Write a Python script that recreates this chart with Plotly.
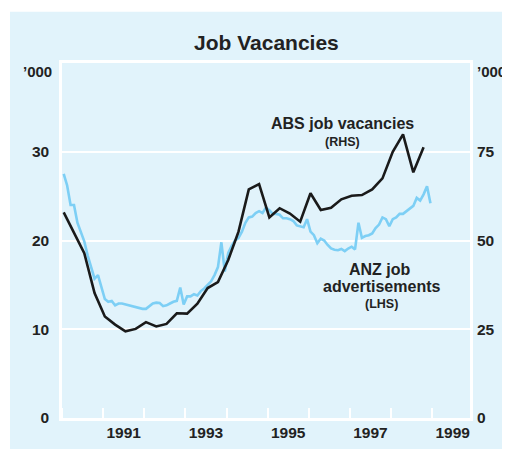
import pandas as pd
import plotly.graph_objects as go

# ANZ job advertisements ('000, LHS), monthly Jan 1990 - Dec 1998
anz_months = pd.date_range("1990-01-01", "1998-12-01", freq="MS")
anz_values = [
    27.5, 26.2, 24.0, 24.0, 22.0, 21.0, 19.9, 18.3, 17.1, 15.7, 16.1, 14.6,
    13.4, 13.1, 13.2, 12.7, 12.9, 12.9, 12.8, 12.7, 12.6, 12.45, 12.4, 12.3,
    12.3, 12.6, 12.9, 13.0, 12.95, 12.6, 12.7, 12.9, 13.1, 13.2, 14.7, 12.8,
    13.7, 13.7, 13.95, 13.8, 14.3, 14.6, 15.0, 15.4, 16.1, 17.0, 19.8, 16.5,
    18.6, 19.4, 20.0, 20.3, 21.0, 22.0, 22.6, 22.7, 23.1, 23.3, 23.1, 23.7,
    23.4, 23.0, 23.0, 22.9, 22.5, 22.5, 22.4, 22.2, 21.7, 21.6, 21.5, 22.4,
    21.0, 20.6, 19.7, 20.2, 20.0, 19.5, 19.1, 18.95, 18.9, 19.05, 18.8, 19.1,
    19.3, 19.0, 22.0, 20.3, 20.5, 20.6, 20.8, 21.4, 21.8, 22.6, 22.4, 21.6,
    22.4, 22.6, 23.0, 23.0, 23.3, 23.6, 23.9, 24.8, 24.5, 25.2, 26.1, 24.2,
]

# ABS job vacancies ('000, RHS), quarterly 1990 - 1998
abs_quarters = pd.date_range("1990-01-01", "1998-10-01", freq="QS")
abs_values = [
    57.9, 52.2, 46.4, 35.2, 28.6, 26.3, 24.4, 25.1, 27.0, 25.8, 26.5, 29.5,
    29.4, 32.2, 36.6, 38.3, 44.5, 52.5, 64.4, 65.9, 56.5, 59.1, 57.6, 55.3,
    63.3, 58.6, 59.2, 61.6, 62.6, 62.8, 64.4, 67.5, 75.0, 79.9, 69.2, 76.3,
]

x_tick_years = [1991, 1993, 1995, 1997, 1999]
left_ticks = [0, 10, 20, 30]
right_ticks = [0, 25, 50, 75]


def to_decimal_year(dates):
    # plot each observation at the middle of its month
    return [d.year + (d.month - 1) / 12 + 1 / 24 for d in dates]


BG = "#E1F3FB"
TXT = "#222222"
FONT = "Liberation Sans, Arial, sans-serif"

fig = go.Figure()
fig.add_trace(go.Scatter(
    x=to_decimal_year(anz_months), y=anz_values, mode="lines",
    line=dict(color="#7DCFF5", width=2.6), yaxis="y", showlegend=False,
    name="ANZ job advertisements",
))
fig.add_trace(go.Scatter(
    x=to_decimal_year(abs_quarters), y=abs_values, mode="lines",
    line=dict(color="#1A1A1A", width=2.6), yaxis="y2", showlegend=False,
    name="ABS job vacancies",
))

# page body has an 8px default margin, so the figure is drawn 8px in
OFF = 8
W, H = 510 - OFF, 449 - OFF
PL, PT, PW, PH = 62, 62.5, 408, 356          # plot area in page pixels
L, T = PL - OFF, PT - OFF
R, B = W - L - PW, H - T - PH


def px_to_paper_x(px):
    return (px - PL) / PW


def px_to_paper_y(py):
    return (PT + PH - py) / PH


fig.add_shape(type="rect", xref="paper", yref="paper",
              x0=px_to_paper_x(10), x1=px_to_paper_x(520),
              y0=px_to_paper_y(460), y1=px_to_paper_y(11),
              fillcolor=BG, line=dict(width=0), layer="below")

tickfont = dict(family=FONT, size=15.5, color=TXT, weight="bold")

fig.update_layout(
    width=W, height=H,
    margin=dict(l=L, r=R, t=T, b=B, pad=0, autoexpand=False),
    paper_bgcolor="white", plot_bgcolor=BG,
    font=dict(family=FONT, color=TXT),
    xaxis=dict(
        range=[1990.0, 1999.92], showgrid=False, zeroline=False, automargin=False,
        showline=True, linecolor="white", linewidth=2.5, mirror=True,
        tickmode="array", tickvals=[y + 0.5 for y in x_tick_years],
        ticktext=[str(y) for y in x_tick_years], ticks="", tickfont=tickfont,
        ticklabelstandoff=-1,
        minor=dict(tickmode="linear", tick0=1991, dtick=1, ticks="inside",
                   ticklen=10, tickwidth=2, tickcolor="white", showgrid=False),
    ),
    yaxis=dict(
        range=[0, 40], tickmode="array", tickvals=left_ticks, automargin=False,
        showgrid=True, gridcolor="white", gridwidth=2, zeroline=False,
        showline=True, linecolor="white", linewidth=2.5, mirror=True,
        ticks="", tickfont=tickfont, ticklabelstandoff=7,
    ),
    yaxis2=dict(
        range=[0, 100], tickmode="array", tickvals=right_ticks, automargin=False,
        overlaying="y", side="right", showgrid=False, zeroline=False,
        showline=False, ticks="", tickfont=tickfont, ticklabelstandoff=6,
    ),
)

ann = [
    dict(text="Job Vacancies", xref="paper", yref="paper",
         x=0.5, y=px_to_paper_y(42.3), font=dict(size=21)),
    dict(text="\u2019000", xref="paper", yref="paper",
         x=px_to_paper_x(54), y=px_to_paper_y(71), xanchor="right",
         font=dict(size=15)),
    dict(text="\u2019000", xref="paper", yref="paper",
         x=px_to_paper_x(475), y=px_to_paper_y(71), xanchor="left",
         font=dict(size=15)),
    dict(text="ABS job vacancies", xref="x", yref="y", x=1996.83, y=33.17,
         font=dict(size=16)),
    dict(text="(RHS)", xref="x", yref="y", x=1996.82, y=31.1, font=dict(size=12.5)),
    dict(text="ANZ job", xref="x", yref="y", x=1997.74, y=16.69, font=dict(size=16)),
    dict(text="advertisements", xref="x", yref="y", x=1997.77, y=14.81,
         font=dict(size=16)),
    dict(text="(LHS)", xref="x", yref="y", x=1997.76, y=12.87, font=dict(size=12.5)),
]
for a in ann:
    a.setdefault("xanchor", "center")
    a.setdefault("yanchor", "middle")
    a["showarrow"] = False
    a["font"] = dict(family=FONT, color=TXT, weight="bold", **a["font"])
    fig.add_annotation(**a)

fig.write_html("out.html")
